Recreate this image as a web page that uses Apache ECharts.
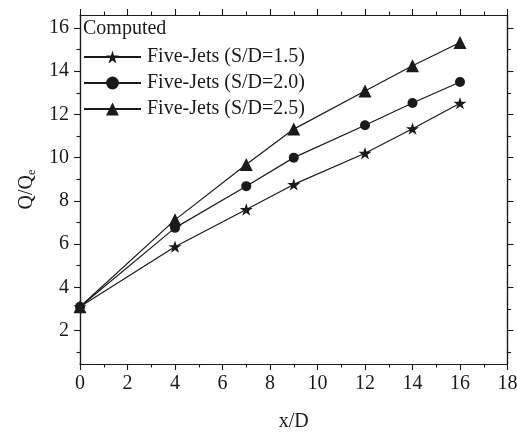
<!DOCTYPE html>
<html>
<head>
<meta charset="utf-8">
<script src="https://cdn.jsdelivr.net/npm/echarts@6/dist/echarts.min.js"></script>
<style>
  html, body { margin: 0; padding: 0; background: #fff; }
  #chart { width: 517px; height: 436px; }
</style>
</head>
<body>
<div id="chart"></div>
<script>
// Distance downstream (x/D) and normalised flow rate Q/Qe for three jet spacings
const xPositions = [0, 4, 7, 9, 12, 14, 16];
const spacing15 = [3.1, 5.88, 7.6, 8.76, 10.2, 11.34, 12.52];
const spacing20 = [3.1, 6.75, 8.68, 10.0, 11.5, 12.53, 13.5];
const spacing25 = [3.1, 7.12, 9.68, 11.32, 13.08, 14.25, 15.33];
const seriesNames = ['Five-Jets (S/D=1.5)', 'Five-Jets (S/D=2.0)', 'Five-Jets (S/D=2.5)'];
const yMajorTicks = [2, 4, 6, 8, 10, 12, 14, 16];
const yMinorTicks = [1, 3, 5, 7, 9, 11, 13, 15];

const FONT = '"Liberation Serif", "Times New Roman", serif';
const INK = '#1a1a1a';
const STAR = 'path://M0 -1 L0.2245 -0.309 L0.951 -0.309 L0.363 0.118 L0.588 0.809 L0 0.382 L-0.588 0.809 L-0.363 0.118 L-0.951 -0.309 L-0.2245 -0.309 Z';

const pairs = ys => xPositions.map((x, i) => [x, ys[i]]);

const axisLine = { show: true, lineStyle: { color: INK, width: 1.2 } };
const Y_MIN = 0.45, Y_MAX = 16.6;

function yAx(position, ticks, len, labels) {
  return {
    type: 'value', position, min: Y_MIN, max: Y_MAX,
    axisLine,
    splitLine: { show: false },
    axisTick: { show: true, inside: false, length: len, customValues: ticks,
                lineStyle: { color: INK, width: 1.1 } },
    axisLabel: labels ? { show: true, customValues: ticks, margin: 11,
                          fontFamily: FONT, fontSize: 20, color: INK }
                      : { show: false }
  };
}

function xAx(position, labels) {
  return {
    type: 'value', position, min: 0, max: 18, interval: 2,
    axisLine,
    splitLine: { show: false },
    axisTick: { show: true, inside: false, length: 6, lineStyle: { color: INK, width: 1.1 } },
    minorTick: { show: true, splitNumber: 2, length: 3.5, lineStyle: { color: INK, width: 1.1 } },
    axisLabel: labels ? { show: true, margin: 10, fontFamily: FONT, fontSize: 20, color: INK }
                      : { show: false }
  };
}

const bottomX = xAx('bottom', true);
bottomX.name = 'x/D';
bottomX.nameLocation = 'middle';
bottomX.nameGap = 48;
bottomX.nameTextStyle = { fontFamily: FONT, fontSize: 20, color: INK };

const leftY = yAx('left', yMajorTicks, 6, true);
leftY.name = '{q|Q/Q}{e|e}';
leftY.nameLocation = 'middle';
leftY.nameRotate = 90;
leftY.nameGap = 40;
leftY.nameTextStyle = {
  fontFamily: FONT, color: INK,
  rich: {
    q: { fontFamily: FONT, fontSize: 20, color: INK },
    e: { fontFamily: FONT, fontSize: 12, color: INK, padding: [10, 0, 0, 0] }
  }
};

function lineSeries(name, ys, symbol, size) {
  return {
    name, type: 'line', data: pairs(ys),
    xAxisIndex: 0, yAxisIndex: 0,
    symbol, symbolSize: size, symbolKeepAspect: true,
    lineStyle: { color: INK, width: 1.2 },
    itemStyle: { color: INK },
    z: 3
  };
}

const chart = echarts.init(document.getElementById('chart'), null, { renderer: 'canvas' });
chart.setOption({
  animation: false,
  backgroundColor: '#fff',
  grid: { left: 80, right: 9.5, top: 15, bottom: 72, outerBoundsMode: 'none' },
  title: {
    text: 'Computed', left: 83, top: 19, padding: 0,
    textStyle: { fontFamily: FONT, fontSize: 20, fontWeight: 'normal', color: INK }
  },
  legend: {
    orient: 'vertical', left: 83, top: 47, padding: 0,
    itemWidth: 57, itemHeight: 16, itemGap: 6,
    data: seriesNames,
    textStyle: { fontFamily: FONT, fontSize: 20, color: INK, padding: [0, 0, 0, 1] }
  },
  xAxis: [bottomX, xAx('top', false)],
  yAxis: [
    leftY,
    yAx('left', yMinorTicks, 3.5, false),
    yAx('right', yMajorTicks, 6, false),
    yAx('right', yMinorTicks, 3.5, false)
  ],
  series: [
    lineSeries(seriesNames[0], spacing15, STAR, 13),
    lineSeries(seriesNames[1], spacing20, 'circle', 10),
    lineSeries(seriesNames[2], spacing25, 'triangle', 13)
  ]
});
</script>
</body>
</html>
